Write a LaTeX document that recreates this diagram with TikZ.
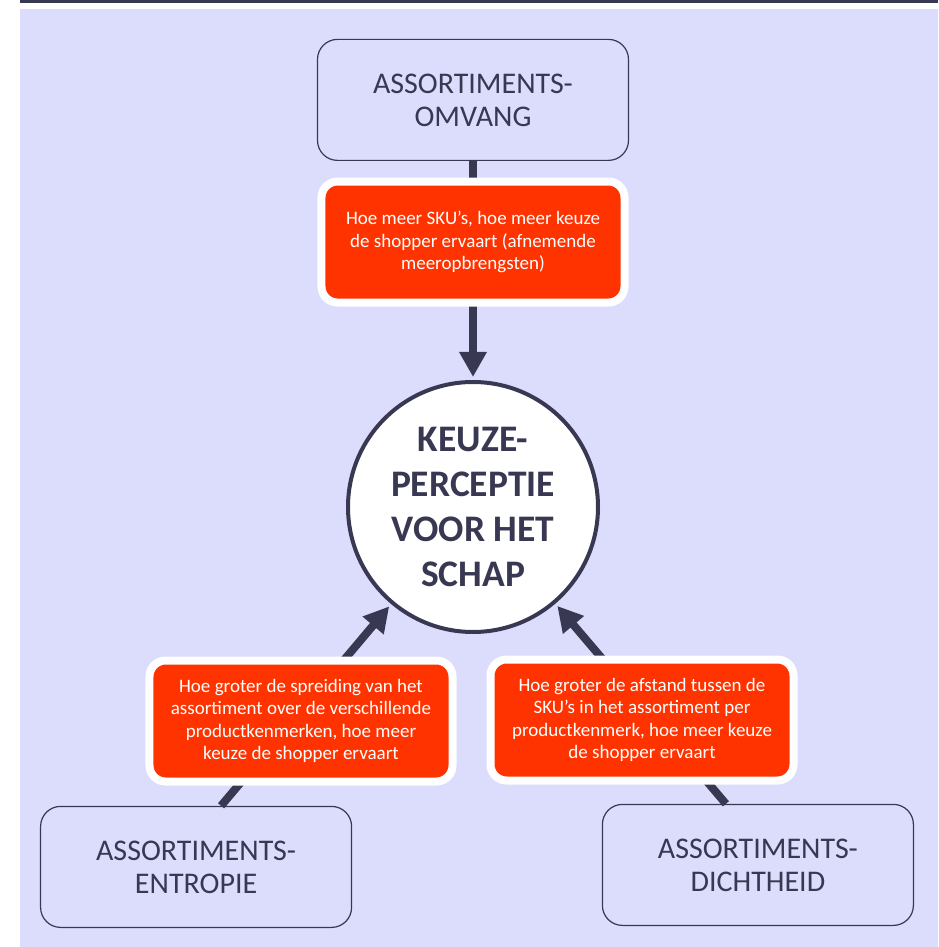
\documentclass[tikz,border=0pt]{standalone}
\usepackage{fontspec}
\setmainfont{Carlito}
\usetikzlibrary{shapes,arrows.meta,positioning,calc}
\definecolor{lavender}{HTML}{DCDCFC}
\definecolor{navy}{HTML}{383852}
\definecolor{redorange}{HTML}{FF3300}

\begin{document}
\begin{tikzpicture}[
    x=1pt, y=1pt,
    node distance=20pt,
    factor/.style={rectangle, draw=navy, line width=1.2pt, fill=lavender, text=navy, minimum width=311pt, minimum height=121pt, rounded corners=20pt, align=center, font=\fontsize{30}{33}\selectfont},
    effect/.style={rectangle, draw=white, line width=8pt, fill=redorange, text=white, minimum width=303pt, minimum height=121pt, rounded corners=16pt, align=center, font=\fontsize{19}{22.5}\selectfont},
    percept/.style={circle, draw=navy, line width=4pt, fill=white, text=navy, minimum size=250pt, inner sep=0pt, align=center, font=\bfseries\fontsize{37.5}{45}\selectfont},
    arrow/.style={-{Triangle[width=26pt,length=25pt]}, line width=8pt, draw=navy, shorten >=3pt}
]
    % Background
    \fill[white] (-473,507) rectangle (465,-440);
    \fill[lavender] (-453,498) rectangle (465,-440);
    \fill[navy] (-453,507) rectangle (465,504);

    % Nodes
    \node[percept] (keuze) at (0,0) {KEUZE-\\PERCEPTIE\\VOOR HET\\SCHAP};
    \node[factor, above=219pt of keuze] (omvang) {ASSORTIMENTS-\\OMVANG};
    \node[factor, below left=209pt and 31pt of keuze] (entropie) {ASSORTIMENTS-\\ENTROPIE};
    \node[factor, below right=207pt and 39pt of keuze] (dichtheid) {ASSORTIMENTS-\\DICHTHEID};

    % Arrows
    \draw[arrow] (omvang) -- (keuze);
    \draw[arrow] ($(entropie.north)+(25,0)$) -- (keuze);
    \draw[arrow] ($(dichtheid.north)+(-32,0)$) -- (keuze);

    % Effects on the arrows
    \node[effect] (meer) at ($(omvang.south)!0.37!(keuze.north)$) {Hoe meer SKU’s, hoe meer keuze\\de shopper ervaart (afnemende\\meeropbrengsten)};
    \node[effect] (spreiding) at ($(keuze)+(-172,-214)$) {Hoe groter de spreiding van het\\assortiment over de verschillende\\productkenmerken, hoe meer\\keuze de shopper ervaart};
    \node[effect] (afstand) at ($(keuze)+(169,-213)$) {Hoe groter de afstand tussen de\\SKU’s in het assortiment per\\productkenmerk, hoe meer keuze\\de shopper ervaart};
\end{tikzpicture}
\end{document}
